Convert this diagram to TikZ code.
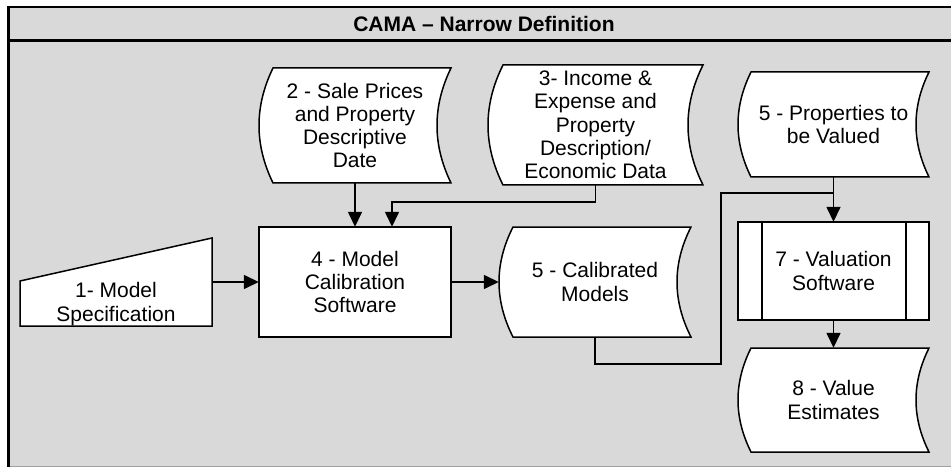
\documentclass[tikz,border=0pt]{standalone}
\usepackage{fontspec}
\setmainfont{Liberation Sans}
\usepackage{tkz-euclide}
\usetikzlibrary{arrows.meta}

\definecolor{panel}{RGB}{217,217,217}
\definecolor{rim}{RGB}{160,160,160}

% stored data outline: x bulge, top, x right, bottom, curve depth
\newcommand{\storedshape}[5]{%
  \filldraw[box] ({#1+#5},#2) -- (#3,#2)
    .. controls ({#3-4/3*#5},{#2+(#4-#2)/3}) and ({#3-4/3*#5},{#4-(#4-#2)/3}) .. (#3,#4)
    -- ({#1+#5},#4)
    .. controls ({#1-#5/3},{#4-(#4-#2)/3}) and ({#1-#5/3},{#2+(#4-#2)/3}) .. cycle;}

\begin{document}
\begin{tikzpicture}[x=1pt,y=-1pt]
\useasboundingbox (0,0) rectangle (951,468);
\tikzset{box/.style={draw=black, fill=white, line width=1.5pt},
         wire/.style={line width=1.5pt},
         lbl/.style={align=center, inner sep=0pt, font=\fontsize{21}{23.3}\selectfont},
         pil/.style={
           -{Triangle[length=15pt,width=14pt]},
           line width=1.5pt,
           }
         }
%==========================================
% frame and title bar
\fill[panel] (8,6) rectangle (951,466);
\draw[rim, line width=1pt] (8,466.5) -- (951,466.5);
\draw[line width=2pt] (7,7) -- (951,7);
\draw[line width=2.5pt] (8,40.5) -- (951,40.5);
\draw[line width=3pt] (8.5,6) -- (8.5,467);
\node[font=\bfseries\fontsize{21}{24}\selectfont] (title) at (484,23.5) {CAMA – Narrow Definition};
%==========================================
% outlines
\filldraw[box] (20,281) -- (212,238) -- (212,326) -- (20,326) -- cycle;
\storedshape{259}{68}{451}{183}{14}
\storedshape{488}{65}{703}{185}{15}
\filldraw[box] (259,227) rectangle (451,337);
\storedshape{499}{227}{691}{337}{14}
\storedshape{738}{72}{929}{177}{13}
\filldraw[box] (738,222) rectangle (929,320);
\draw[wire] (762,222) -- (762,320) (906,222) -- (906,320);
\storedshape{738}{348}{929}{452}{13}
%==========================================
% texts
\node[lbl, minimum width=192pt, minimum height=40pt] (m1) at (116,304) {1- Model\\Specification};
\node[lbl, minimum width=192pt, minimum height=115pt] (s2) at (355,125.5) {2 - Sale Prices\\and Property\\Descriptive\\Date};
\node[lbl, minimum width=215pt, minimum height=120pt] (s3) at (595.5,125) {3- Income \&\\Expense and\\Property\\Description/\\Economic Data};
\node[lbl, minimum width=192pt, minimum height=110pt] (m4) at (355,282) {4 - Model\\Calibration\\Software};
\node[lbl, minimum width=192pt, minimum height=110pt] (s5) at (595,282) {5 - Calibrated\\Models};
\node[lbl, minimum width=191pt, minimum height=105pt] (s6) at (833.5,124.5) {5 - Properties to\\be Valued};
\node[lbl, minimum width=191pt, minimum height=98pt] (p7) at (833.5,271) {7 - Valuation\\Software};
\node[lbl, minimum width=191pt, minimum height=104pt] (s8) at (833.5,400) {8 - Value\\Estimates};
%==========================================
% connectors
\tkzDefPoint[](392,202){j3};
\tkzDefPoint[](721,364){k1};
\tkzDefPoint[](721,193){k2};
\draw[pil] (m1.east |- m4.west) -- (m4.west);
\draw[pil] (s2.south) -- (m4.north);
\draw[pil] (s3.south) |- (j3) -- (j3 |- m4.north);
\draw[pil] (m4.east) -- (s5.west);
\draw[wire] (s5.south) |- (k1) -- (k2) -- (k2 -| s6.south);
\draw[pil] (s6.south) -- (p7.north);
\draw[pil] (p7.south) -- (s8.north);
\end{tikzpicture}
\end{document}
